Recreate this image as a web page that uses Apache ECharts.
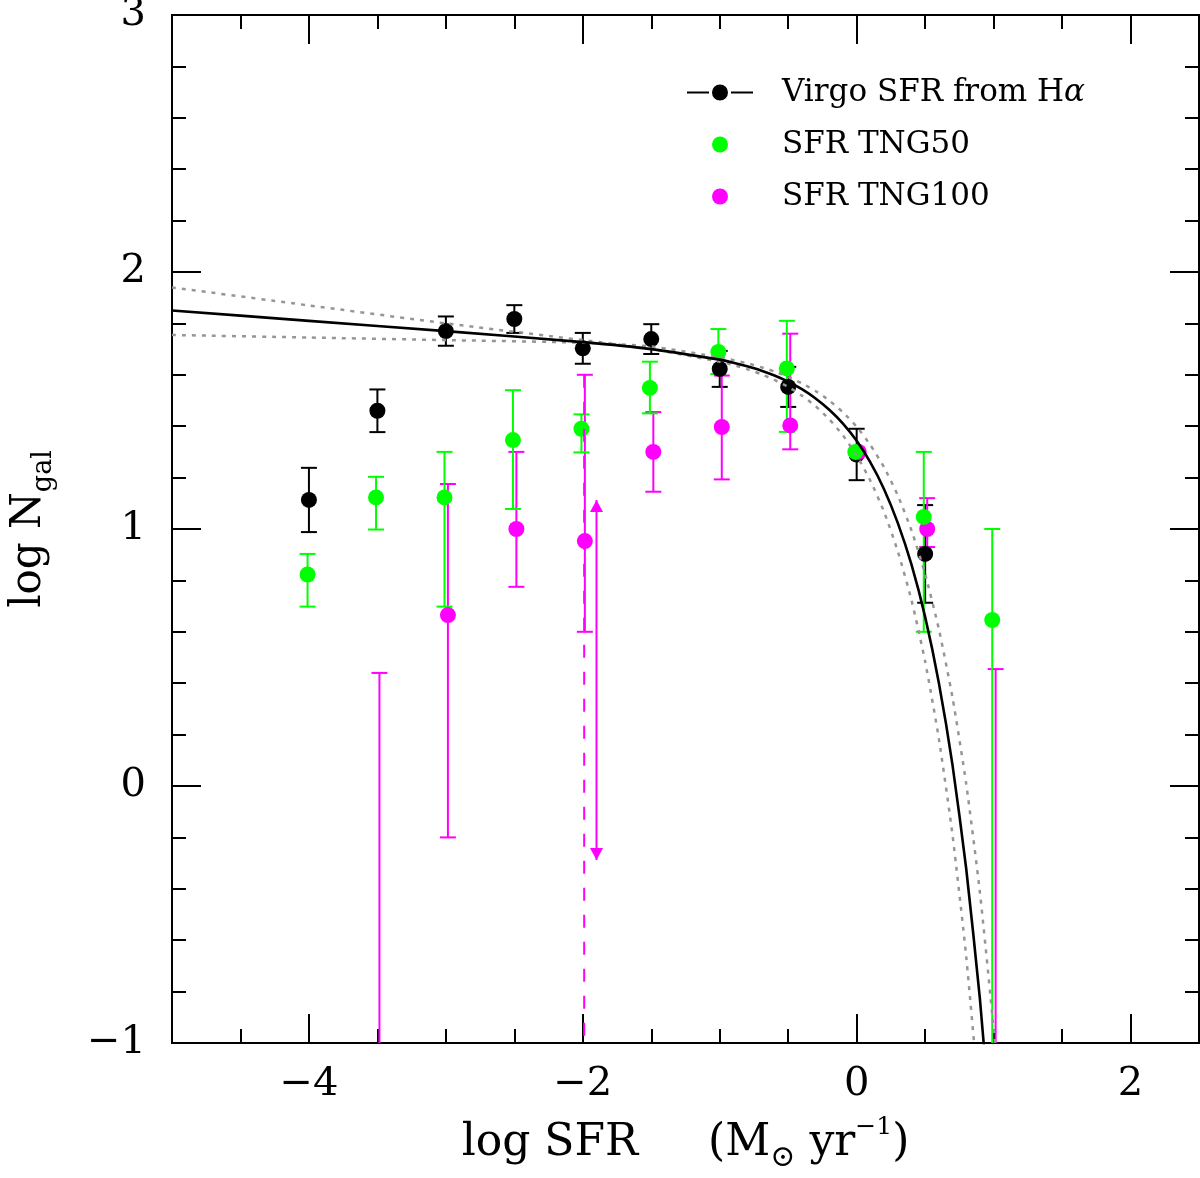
<!DOCTYPE html>
<html>
<head>
<meta charset="utf-8">
<script src="https://cdn.jsdelivr.net/npm/echarts@6.0.0/dist/echarts.min.js"></script>
<style>
html,body{margin:0;padding:0;background:#ffffff;}
#chart{width:1200px;height:1178px;}
</style>
</head>
<body>
<div id="chart"></div>
<script>
// ---------------- data ----------------
// Virgo SFR from H-alpha (black)
const virgoX    = [-4, -3.5, -3, -2.5, -2, -1.5, -1, -0.5, 0, 0.5];
const virgoLogN = [1.113, 1.46, 1.77, 1.817, 1.703, 1.739, 1.623, 1.553, 1.29, 0.903];
const virgoErr  = [0.125, 0.083, 0.057, 0.054, 0.06, 0.058, 0.07, 0.078, 0.10, 0.19];

// SFR TNG50 (green)
const tng50X    = [-4.01, -3.51, -3.01, -2.51, -2.01, -1.51, -1.01, -0.51, -0.01, 0.49, 0.99];
const tng50LogN = [0.823, 1.123, 1.123, 1.346, 1.39, 1.549, 1.689, 1.625, 1.30, 1.047, 0.646];
const tng50Hi   = [0.903, 1.203, 1.30, 1.54, 1.446, 1.651, 1.778, 1.81, null, 1.30, 1.00];
const tng50Lo   = [0.698, 0.998, 0.698, 1.078, 1.298, 1.45, 1.603, 1.378, null, 0.60, -1.5];

// SFR TNG100 (magenta)
const tng100X    = [-3.485, -2.985, -2.485, -1.985, -1.485, -0.985, -0.485, 0.015, 0.515, 1.015];
const tng100LogN = [null, 0.665, 1.00, 0.953, 1.30, 1.397, 1.403, 1.30, 1.00, null];
const tng100Hi   = [0.44, 1.175, 1.30, 1.60, 1.455, 1.597, 1.76, null, 1.12, 0.455];
const tng100Lo   = [-1.5, -0.20, 0.775, 0.60, 1.145, 1.193, 1.31, null, 0.93, -1.5];

// TNG100 dashed limit line and double arrow
const limitX = [-1.99, -1.99];
const limitY = [1.60, -1.0];
const arrowX = [-1.9, -1.9];
const arrowY = [1.113, -0.288];

// Fitted curve (solid black) and the two dotted gray curves
const fitX = [-5, -4, -3, -2, -1.5, -1, -0.9, -0.8, -0.7, -0.6, -0.5, -0.4, -0.3, -0.2, -0.1, 0,
              0.1, 0.2, 0.3, 0.4, 0.5, 0.6, 0.7, 0.8, 0.9, 0.95];
const fitY = [1.85, 1.81, 1.77, 1.727, 1.70, 1.659, 1.647, 1.633, 1.617, 1.597, 1.573, 1.544, 1.508, 1.464, 1.41, 1.343,
              1.259, 1.155, 1.024, 0.862, 0.658, 0.402, 0.081, -0.322, -0.828, -1.15];

const dotAX = [-5, -4, -3, -2, -1.5, -1, -0.9, -0.8, -0.7, -0.6, -0.5, -0.4, -0.3, -0.2, -0.1, 0,
               0.1, 0.2, 0.3, 0.4, 0.5, 0.6, 0.7, 0.8, 0.9];
const dotAY = [1.94, 1.87, 1.80, 1.735, 1.70, 1.651, 1.638, 1.622, 1.603, 1.58, 1.553, 1.519, 1.478, 1.427, 1.364, 1.286,
               1.188, 1.067, 0.914, 0.724, 0.485, 0.185, -0.191, -0.664, -1.258];

const dotBX = [-5, -4, -3, -2, -1.5, -1, -0.9, -0.8, -0.7, -0.6, -0.5, -0.4, -0.3, -0.2, -0.1, 0,
               0.1, 0.2, 0.3, 0.4, 0.5, 0.6, 0.7, 0.8, 0.9, 1.0, 1.05];
const dotBY = [1.755, 1.745, 1.735, 1.725, 1.71, 1.668, 1.657, 1.645, 1.63, 1.613, 1.592, 1.567, 1.537, 1.50, 1.454, 1.398,
               1.327, 1.24, 1.131, 0.995, 0.825, 0.611, 0.344, 0.008, -0.414, -0.944, -1.258];

// Axes
const xMin = -5, xMax = 2.5;
const yMin = -1, yMax = 3;
const xMajorTicks = [-4, -2, 0, 2];
const xMinorTicks = [-4.5, -3.5, -3, -2.5, -1.5, -1, -0.5, 0.5, 1, 1.5];

const legendNames = ['Virgo SFR from H\u03b1', 'SFR TNG50', 'SFR TNG100'];

// ---------------- helpers ----------------
const zip = (xs, ys) => xs.map((x, i) => [x, ys[i]]).filter(p => p[1] != null);
const bars = (xs, lo, hi) => xs.map((x, i) => [x, lo[i], hi[i]]).filter(d => d[1] != null && d[2] != null);

const virgoBars = bars(virgoX, virgoX.map((x, i) => virgoLogN[i] - virgoErr[i]), virgoX.map((x, i) => virgoLogN[i] + virgoErr[i]));
const tng50Bars = bars(tng50X, tng50Lo, tng50Hi);
const tng100Bars = bars(tng100X, tng100Lo, tng100Hi);

function errorBar(color, capHalf, width) {
  return function (params, api) {
    const x = api.value(0);
    const lo = api.coord([x, api.value(1)]);
    const hi = api.coord([x, api.value(2)]);
    const st = { stroke: color, lineWidth: width };
    return {
      type: 'group',
      children: [
        { type: 'line', shape: { x1: hi[0], y1: hi[1], x2: lo[0], y2: lo[1] }, style: st },
        { type: 'line', shape: { x1: hi[0] - capHalf, y1: hi[1], x2: hi[0] + capHalf, y2: hi[1] }, style: st },
        { type: 'line', shape: { x1: lo[0] - capHalf, y1: lo[1], x2: lo[0] + capHalf, y2: lo[1] }, style: st }
      ]
    };
  };
}

const minusFmt = v => (v < 0 ? '\u2212' + Math.abs(v) : String(v));
const FONT = 'DejaVu Serif';
const AX = { color: '#000', width: 2 };

function xAxisDef(pos, major, withLabels) {
  return {
    type: 'value', position: pos, min: xMin, max: xMax, gridIndex: 0,
    axisLine: { show: true, onZero: false, lineStyle: AX },
    axisTick: { show: true, inside: true, length: major ? 29 : 14, customValues: major ? xMajorTicks : xMinorTicks, lineStyle: AX },
    axisLabel: withLabels ? { show: true, customValues: xMajorTicks, formatter: minusFmt, fontFamily: FONT, fontSize: 40, color: '#000', margin: 22 } : { show: false },
    splitLine: { show: false },
    minorTick: { show: false }
  };
}
function yAxisDef(pos, withLabels) {
  return {
    type: 'value', position: pos, min: yMin, max: yMax, interval: 1, gridIndex: 0,
    axisLine: { show: true, onZero: false, lineStyle: AX },
    axisTick: { show: true, inside: true, length: 29, lineStyle: AX },
    minorTick: { show: true, splitNumber: 5, length: 14, lineStyle: AX },
    axisLabel: withLabels ? { show: true, formatter: minusFmt, fontFamily: FONT, fontSize: 40, color: '#000', margin: 26 } : { show: false },
    splitLine: { show: false }
  };
}

const xBottom = xAxisDef('bottom', true, true);
xBottom.name = '{a|log SFR     (M}{s|\u2299}{a| yr}{p|\u22121}{a|)}';
xBottom.nameLocation = 'middle';
xBottom.nameGap = 72;
xBottom.nameTextStyle = {
  fontFamily: FONT, fontSize: 44, color: '#000',
  rich: {
    a: { fontFamily: FONT, fontSize: 44, color: '#000', lineHeight: 58 },
    s: { fontFamily: FONT, fontSize: 30, color: '#000', lineHeight: 20, verticalAlign: 'bottom' },
    p: { fontFamily: FONT, fontSize: 25, color: '#000', lineHeight: 32, verticalAlign: 'top' }
  }
};

const yLeft = yAxisDef('left', true);
yLeft.name = '{a|log N}{b|gal}';
yLeft.nameLocation = 'middle';
yLeft.nameGap = 115;
yLeft.nameTextStyle = {
  fontFamily: FONT, fontSize: 42, color: '#000',
  rich: {
    a: { fontFamily: FONT, fontSize: 42, color: '#000', lineHeight: 56 },
    b: { fontFamily: FONT, fontSize: 27, color: '#000', lineHeight: 20, verticalAlign: 'bottom' }
  }
};

const virgoIcon = 'path://M0,7H22V9H0Z M44,7H66V9H44Z M33,0A8,8,0,1,1,32.99,0Z';

const option = {
  backgroundColor: '#ffffff',
  animation: false,
  grid: { left: 172, right: 1, top: 15, bottom: 135, containLabel: false, outerBoundsMode: 'none' },
  legend: {
    orient: 'vertical', left: 687, top: 77, padding: 0,
    itemWidth: 66, itemHeight: 16, itemGap: 21,
    selectedMode: false,
    textStyle: {
      fontFamily: FONT, fontSize: 31, color: '#000', lineHeight: 30, padding: [0, 0, 0, 24],
      rich: {
        n: { fontFamily: FONT, fontSize: 31, color: '#000', lineHeight: 30 },
        i: { fontFamily: FONT, fontSize: 31, color: '#000', lineHeight: 30, fontStyle: 'italic' }
      }
    },
    formatter: name => name === legendNames[0] ? '{n|Virgo SFR from H}{i|\u03b1}' : '{n|' + name + '}',
    data: [
      { name: legendNames[0], icon: virgoIcon },
      { name: legendNames[1], icon: 'circle' },
      { name: legendNames[2], icon: 'circle' }
    ]
  },
  xAxis: [xBottom, xAxisDef('bottom', false, false), xAxisDef('top', true, false), xAxisDef('top', false, false)],
  yAxis: [yLeft, yAxisDef('right', false)],
  series: [
    // Virgo
    { type: 'custom', name: 'virgoErr', renderItem: errorBar('#000', 8, 2), data: virgoBars, encode: { x: 0, y: [1, 2] }, clip: true, silent: true },
    { type: 'scatter', name: legendNames[0], data: zip(virgoX, virgoLogN), symbol: 'circle', symbolSize: 16, itemStyle: { color: '#000', opacity: 1 }, silent: true },
    // TNG100
    { type: 'custom', name: 'tng100Err', renderItem: errorBar('#ff00ff', 8, 2), data: tng100Bars, encode: { x: 0, y: [1, 2] }, clip: true, silent: true },
    { type: 'line', name: 'tng100Limit', data: zip(limitX, limitY), showSymbol: false, symbol: 'none', lineStyle: { color: '#ff00ff', width: 2, type: [13, 14] }, clip: true, silent: true },
    { type: 'line', name: 'tng100Arrow', data: [
        { value: [arrowX[0], arrowY[0]], symbol: 'triangle', symbolOffset: [0, 6] },
        { value: [arrowX[1], arrowY[1]], symbol: 'triangle', symbolRotate: 180, symbolOffset: [0, -6] }
      ], symbolSize: [13, 12], showSymbol: true, itemStyle: { color: '#ff00ff', borderWidth: 0 }, lineStyle: { color: '#ff00ff', width: 2 }, silent: true },
    { type: 'scatter', name: legendNames[2], data: zip(tng100X, tng100LogN), symbol: 'circle', symbolSize: 16, itemStyle: { color: '#ff00ff', opacity: 1 }, silent: true },
    // TNG50
    { type: 'custom', name: 'tng50Err', renderItem: errorBar('#00ff00', 8, 2), data: tng50Bars, encode: { x: 0, y: [1, 2] }, clip: true, silent: true },
    { type: 'scatter', name: legendNames[1], data: zip(tng50X, tng50LogN), symbol: 'circle', symbolSize: 16, itemStyle: { color: '#00ff00', opacity: 1 }, silent: true },
    // curves
    { type: 'line', name: 'dotA', data: zip(dotAX, dotAY), smooth: 0.2, showSymbol: false, symbol: 'none', lineStyle: { color: '#969696', width: 2.5, type: [4, 6] }, clip: true, silent: true },
    { type: 'line', name: 'dotB', data: zip(dotBX, dotBY), smooth: 0.2, showSymbol: false, symbol: 'none', lineStyle: { color: '#969696', width: 2.5, type: [4, 6] }, clip: true, silent: true },
    { type: 'line', name: 'fit', data: zip(fitX, fitY), smooth: 0.2, showSymbol: false, symbol: 'none', lineStyle: { color: '#000', width: 2.6 }, clip: true, silent: true }
  ]
};

const chart = echarts.init(document.getElementById('chart'), null, { renderer: 'canvas' });
chart.setOption(option);
</script>
</body>
</html>
